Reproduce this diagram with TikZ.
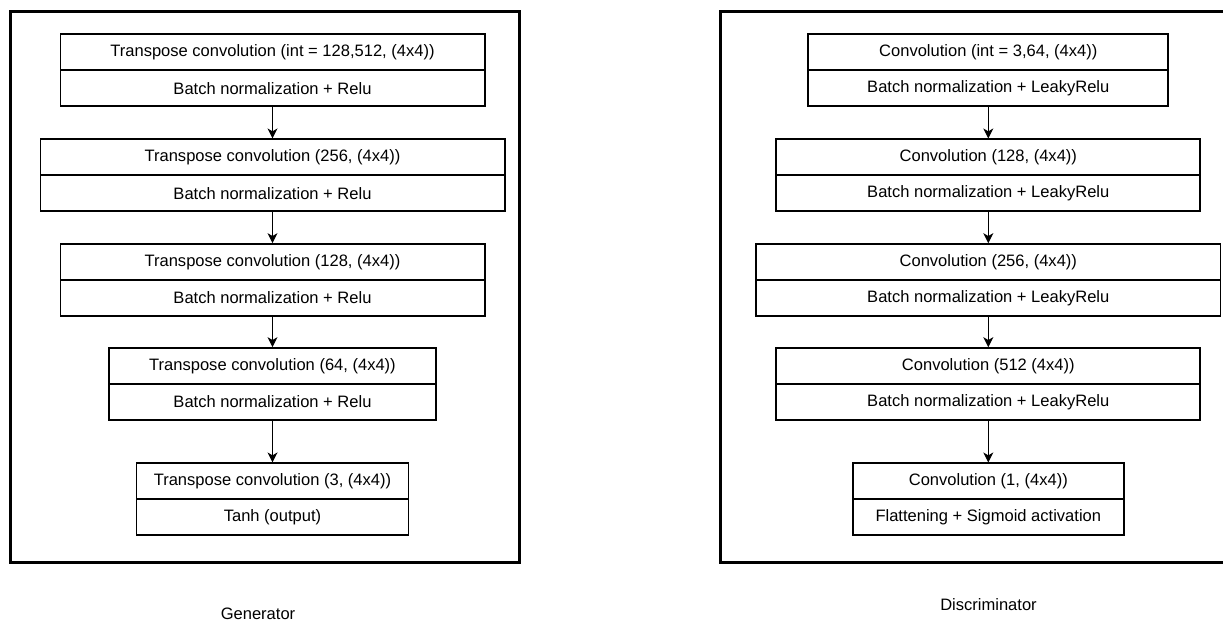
\documentclass[tikz,border=0pt]{standalone}
\usepackage{fontspec}
\setmainfont{Liberation Sans}
\usepackage{tikz}
\usetikzlibrary{arrows.meta}

\begin{document}
\begin{tikzpicture}[x=0.75pt,y=-0.75pt,
        cell/.style={draw, line width=1.3pt, minimum height=27pt, inner sep=0pt, font=\fontsize{12.4}{14}\selectfont},
        flow/.style={-{Stealth[length=7.5pt,width=7.5pt,inset=2.2pt]}, line width=0.75pt},
        frame/.style={line width=2.25pt},
        caption/.style={font=\fontsize{12.4}{14}\selectfont}]
                \useasboundingbox (0,0) rectangle (1223,622);
                \clip (0,0) rectangle (1223,622);
                \draw[frame] (10,11) rectangle (519,562);
                \draw[frame] (720.5,11) rectangle (1240,562);
                \node[cell, minimum width=318.2pt] (g1t) at (272.5,52.3) {Transpose convolution (int = 128,512, (4x4))};
                \node[cell, minimum width=318.2pt] (g1b) at (272.5,88.3) {Batch normalization + Relu};
                \node[cell, minimum width=348.2pt] (g2t) at (272.5,157.3) {Transpose convolution (256, (4x4))};
                \node[cell, minimum width=348.2pt] (g2b) at (272.5,193.3) {Batch normalization + Relu};
                \node[cell, minimum width=318.2pt] (g3t) at (272.5,262) {Transpose convolution (128, (4x4))};
                \node[cell, minimum width=318.2pt] (g3b) at (272.5,298) {Batch normalization + Relu};
                \node[cell, minimum width=244.8pt] (g4t) at (272.5,366) {Transpose convolution (64, (4x4))};
                \node[cell, minimum width=244.8pt] (g4b) at (272.5,402) {Batch normalization + Relu};
                \node[cell, minimum width=203.9pt] (g5t) at (272.5,481.3) {Transpose convolution (3, (4x4))};
                \node[cell, minimum width=203.9pt] (g5b) at (272.5,517.3) {Tanh (output)};
                \draw[flow] (g1b) -- (g2t);
                \draw[flow] (g2b) -- (g3t);
                \draw[flow] (g3b) -- (g4t);
                \draw[flow] (g4b) -- (g5t);
                \node[cell, minimum width=270pt] (d1t) at (988.3,52.3) {Convolution (int = 3,64, (4x4))};
                \node[cell, minimum width=270pt] (d1b) at (988.3,88.3) {Batch normalization + LeakyRelu};
                \node[cell, minimum width=318pt] (d2t) at (988.3,157.3) {Convolution (128, (4x4))};
                \node[cell, minimum width=318pt] (d2b) at (988.3,193.3) {Batch normalization + LeakyRelu};
                \node[cell, minimum width=348.2pt] (d3t) at (988.3,262) {Convolution (256, (4x4))};
                \node[cell, minimum width=348.2pt] (d3b) at (988.3,298) {Batch normalization + LeakyRelu};
                \node[cell, minimum width=318pt] (d4t) at (988.3,366) {Convolution (512 (4x4))};
                \node[cell, minimum width=318pt] (d4b) at (988.3,402) {Batch normalization + LeakyRelu};
                \node[cell, minimum width=203.4pt] (d5t) at (988.3,481.3) {Convolution (1, (4x4))};
                \node[cell, minimum width=203.4pt] (d5b) at (988.3,517.3) {Flattening + Sigmoid activation};
                \draw[flow] (d1b) -- (d2t);
                \draw[flow] (d2b) -- (d3t);
                \draw[flow] (d3b) -- (d4t);
                \draw[flow] (d4b) -- (d5t);
                \node[caption] (gen) at (258,614) {Generator};
                \node[caption] (dis) at (988.5,605) {Discriminator};
            \end{tikzpicture}
\end{document}
